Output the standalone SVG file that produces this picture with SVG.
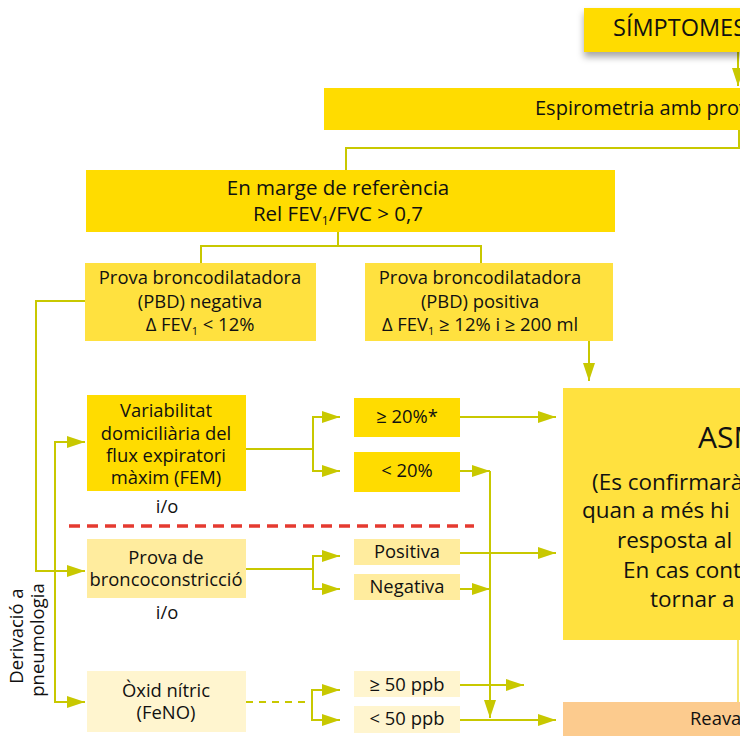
<svg xmlns="http://www.w3.org/2000/svg" width="740" height="736" viewBox="0 0 740 736">
<style>
text{font-family:"Open Sans","Noto Sans",sans-serif;fill:#111;font-weight:500}
.c{text-anchor:middle}
.t18{font-size:18.4px}
.t20{font-size:20.5px}
.t22{font-size:22.5px}
.y1{fill:#FFDC00}
.y2{fill:#FFE13F}
.y3{fill:#FFEC9E}
.y4{fill:#FFF5CF}
.or{fill:#FCCB8E}
.ln{fill:none;stroke:#C8C800;stroke-width:2}
.ar{marker-end:url(#ah)}
.dash{stroke-dasharray:7 6}
.red{fill:none;stroke:#E53A30;stroke-width:3.5;stroke-dasharray:11 7}
</style>
<defs>
<marker id="ah" markerUnits="userSpaceOnUse" markerWidth="18" markerHeight="12" refX="18" refY="6" orient="auto">
<path d="M0,0 L18,6 L0,12 z" fill="#C8C800"/>
</marker>
<filter id="sh" x="-10%" y="-30%" width="130%" height="190%">
<feDropShadow dx="0" dy="5" stdDeviation="3.5" flood-color="#000" flood-opacity="0.35"/>
</filter>
</defs>

<g id="connectors">
<path class="ln ar" d="M738,52 V86"/>
<path class="ln" d="M739,130 V148 H346 V170"/>
<path class="ln" d="M338,232 V246 M201,263 V246 H481 V263"/>
<path class="ln ar" d="M85,301 H36 V571 H85"/>
<path class="ln ar" d="M55,571 V442 H85"/>
<path class="ln ar" d="M55,571 V702 H85"/>
<path class="ln" d="M246,449 H313"/>
<path class="ln ar" d="M313,449 V417 H340"/>
<path class="ln ar" d="M313,449 V471 H340"/>
<path class="ln ar" d="M460,417 H556"/>
<path class="ln ar" d="M460,471 H490"/>
<path class="ln ar" d="M490,471 V718"/>
<path class="ln" d="M246,569 H313"/>
<path class="ln ar" d="M313,569 V556 H340"/>
<path class="ln ar" d="M313,569 V589 H340"/>
<path class="ln ar" d="M460,553 H556"/>
<path class="ln ar" d="M460,589 H490"/>
<path class="ln dash" d="M246,702 H312"/>
<path class="ln ar" d="M312,702 V690 H340"/>
<path class="ln ar" d="M312,702 V720 H340"/>
<path class="ln ar" d="M460,685 H524"/>
<path class="ln ar" d="M460,720 H556"/>
<path class="ln ar" d="M589,341 V381"/>
<path d="M738,640 V702" fill="none" stroke="#F2DC3A" stroke-width="1.5"/>
</g>

<path class="red" d="M69,526 H474"/>

<g id="simptomes">
<rect class="y1" x="584" y="8" width="170" height="44" filter="url(#sh)"/>
<text x="613" y="36" style="font-size:23.5px">SÍMPTOMES</text>
</g>

<g id="espirometria">
<rect class="y1" x="324" y="88" width="430" height="42"/>
<text x="535" y="115" style="font-size:20px">Espirometria amb prova</text>
</g>

<g id="marge">
<rect class="y1" x="86" y="170" width="529" height="62"/>
<text class="t20 c" x="338" y="195">En marge de referència</text>
<text class="t20 c" x="338" y="221">Rel FEV<tspan font-size="12" dy="4">1</tspan><tspan dy="-4">/FVC &gt; 0,7</tspan></text>
</g>

<g id="pbd-neg">
<rect class="y2" x="85" y="263" width="231" height="78"/>
<text class="t18 c" x="200" y="284">Prova broncodilatadora</text>
<text class="t18 c" x="200" y="308">(PBD) negativa</text>
<text class="t18 c" x="200" y="331">Δ FEV<tspan font-size="11" dy="4">1</tspan><tspan dy="-4"> &lt; 12%</tspan></text>
</g>

<g id="pbd-pos">
<rect class="y2" x="365" y="263" width="248" height="78"/>
<text class="t18 c" x="480" y="284">Prova broncodilatadora</text>
<text class="t18 c" x="480" y="308">(PBD) positiva</text>
<text class="t18 c" x="480" y="331">Δ FEV<tspan font-size="11" dy="4">1</tspan><tspan dy="-4"> ≥ 12% i ≥ 200 ml</tspan></text>
</g>

<g id="variabilitat">
<rect class="y1" x="87" y="395" width="159" height="96"/>
<text class="t18 c" x="166" y="417">Variabilitat</text>
<text class="t18 c" x="166" y="440">domiciliària del</text>
<text class="t18 c" x="166" y="462">flux expiratori</text>
<text class="t18 c" x="166" y="484">màxim (FEM)</text>
</g>
<text class="t18 c" x="167" y="513">i/o</text>

<g id="fem-alt">
<rect class="y1" x="354" y="398" width="106" height="39"/>
<text class="t18 c" x="407" y="423">≥ 20%*</text>
</g>
<g id="fem-baix">
<rect class="y1" x="354" y="452" width="106" height="40"/>
<text class="t18 c" x="407" y="477">&lt; 20%</text>
</g>

<g id="broncoconstriccio">
<rect class="y3" x="87" y="539" width="159" height="59"/>
<text class="t18 c" x="166" y="564">Prova de</text>
<text class="t18 c" x="166" y="586">broncoconstricció</text>
</g>
<text class="t18 c" x="167" y="619">i/o</text>

<g id="positiva">
<rect class="y3" x="354" y="539" width="106" height="26"/>
<text class="t18 c" x="407" y="558">Positiva</text>
</g>
<g id="negativa">
<rect class="y3" x="354" y="574" width="106" height="26"/>
<text class="t18 c" x="407" y="593">Negativa</text>
</g>

<g id="oxid">
<rect class="y4" x="87" y="671" width="159" height="61"/>
<text class="t18 c" x="166" y="697">Òxid nítric</text>
<text class="t18 c" x="166" y="719">(FeNO)</text>
</g>

<g id="ppb-alt">
<rect class="y4" x="354" y="671" width="106" height="26"/>
<text class="t18 c" x="407" y="691">≥ 50 ppb</text>
</g>
<g id="ppb-baix">
<rect class="y4" x="354" y="706" width="106" height="27"/>
<text class="t18 c" x="407" y="725">&lt; 50 ppb</text>
</g>

<g id="asma">
<rect class="y2" x="563" y="388" width="190" height="252"/>
<text x="698" y="448" style="font-size:30px">ASMA</text>
<text class="t22" x="592" y="490">(Es confirmarà</text>
<text class="t22" x="582" y="518">quan a més hi</text>
<text class="t22" x="617" y="548">resposta al</text>
<text class="t22" x="623" y="578">En cas contrari</text>
<text class="t22" x="650" y="607">tornar a</text>
</g>

<g id="reavaluar">
<rect class="or" x="563" y="702" width="190" height="40"/>
<text class="t18" x="690" y="725">Reavaluar</text>
</g>

<g id="derivacio">
<text class="c" transform="translate(23,636) rotate(-90)" style="font-size:18.5px">Derivació a</text>
<text class="c" transform="translate(44,640) rotate(-90)" style="font-size:18.5px">pneumologia</text>
</g>
</svg>
